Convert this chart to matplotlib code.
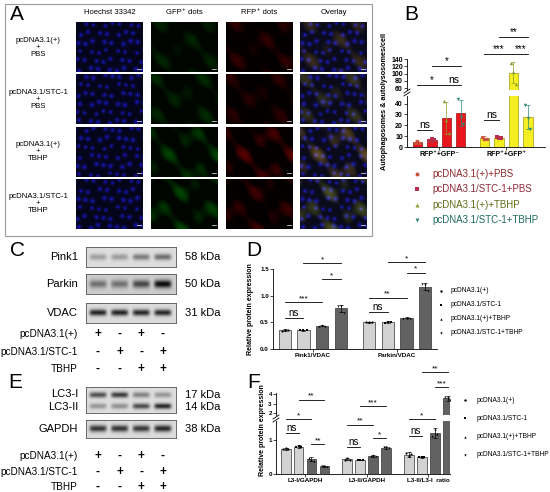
import matplotlib
matplotlib.use('Agg')
import matplotlib.pyplot as plt
import numpy as np

plt.rcParams['font.family'] = ['Liberation Sans', 'DejaVu Sans']
plt.rcParams['axes.linewidth'] = 0.6

# ---------------- data ----------------
# A: fluorescence panel
conditions = ['pcDNA3.1(+)\n+\nPBS', 'pcDNA3.1/STC-1\n+\nPBS',
              'pcDNA3.1(+)\n+\nTBHP', 'pcDNA3.1/STC-1\n+\nTBHP']
channels = ['Hoechst 33342', 'GFP⁺ dots', 'RFP⁺ dots', 'Overlay']
gfp_level = [0.30, 0.35, 0.55, 0.60]
rfp_level = [0.35, 0.30, 0.60, 0.45]

# B: autophagosomes / autolysosomes per cell
b_groups = ['RFP⁺+GFP⁻', 'RFP⁺+GFP⁺']
b_labels = ['pcDNA3.1(+)+PBS', 'pcDNA3.1/STC-1+PBS', 'pcDNA3.1(+)+TBHP', 'pcDNA3.1/STC-1+TBHP']
b_red = [4.3, 6.2, 26.7, 31.0]
b_red_err = [1.8, 1.2, 14.5, 12.0]
b_red_pts = [[3.5, 5.5, 4.0], [5.5, 7.2, 6.0], [42, 25, 13], [44, 28, 21]]
b_yellow = [8.0, 8.5, 102.0, 27.7]
b_yellow_err = [2.0, 1.0, 29.0, 11.0]
b_yellow_pts = [[9.5, 7.0, 7.5], [9.0, 8.5, 8.0], [130, 104, 72], [39, 27, 17]]

# C / E: western blot band intensities (lanes 1-4)
lanes = [1, 2, 3, 4]
pink1_band = [0.30, 0.32, 0.48, 0.55]
parkin_band = [0.45, 0.45, 0.65, 0.95]
vdac_band = [0.90, 0.90, 0.88, 0.88]
lc3i_band = [0.70, 0.80, 0.45, 0.35]
lc3ii_band = [0.35, 0.38, 0.72, 0.90]
gapdh_band = [0.82, 0.82, 0.80, 0.88]
row_names = ['pcDNA3.1(+)', 'pcDNA3.1/STC-1', 'TBHP']
pcdna_row = ['+', '-', '+', '-']
stc1_row = ['-', '+', '-', '+']
tbhp_row = ['-', '-', '+', '+']

# D: Pink1 / Parkin relative expression
d_groups = ['Pink1/VDAC', 'Parkin/VDAC']
legend_df = ['pcDNA3.1(+)', 'pcDNA3.1/STC-1', 'pcDNA3.1(+)+TBHP', 'pcDNA3.1/STC-1+TBHP']
d_pink1 = [0.35, 0.35, 0.44, 0.76]
d_pink1_err = [0.02, 0.01, 0.01, 0.07]
d_pink1_pts = [[0.33, 0.36, 0.35], [0.35, 0.35, 0.35], [0.44, 0.45, 0.44], [0.80, 0.80, 0.67]]
d_parkin = [0.50, 0.50, 0.59, 1.17]
d_parkin_err = [0.01, 0.02, 0.01, 0.07]
d_parkin_pts = [[0.50, 0.51, 0.50], [0.48, 0.51, 0.50], [0.59, 0.59, 0.59], [1.22, 1.20, 1.08]]

# F: LC3 relative expression
f_groups = ['L3-I/GAPDH', 'L3-II/GAPDH', 'L3-II/L3-I  ratio']
f_lc3i = [0.74, 0.80, 0.43, 0.22]
f_lc3i_err = [0.03, 0.04, 0.06, 0.02]
f_lc3i_pts = [[0.73, 0.76, 0.74], [0.78, 0.83, 0.80], [0.48, 0.42, 0.38], [0.23, 0.22, 0.20]]
f_lc3ii = [0.43, 0.41, 0.53, 0.77]
f_lc3ii_err = [0.03, 0.01, 0.02, 0.03]
f_lc3ii_pts = [[0.42, 0.46, 0.42], [0.41, 0.41, 0.42], [0.53, 0.55, 0.52], [0.78, 0.79, 0.75]]
f_ratio = [0.57, 0.50, 1.20, 3.55]
f_ratio_err = [0.08, 0.02, 0.15, 0.25]
f_ratio_pts = [[0.62, 0.52, 0.58], [0.50, 0.51, 0.49], [1.10, 1.33, 1.18], [3.70, 3.60, 3.35]]

markers = ['o', 's', '^', 'v']
b_mcolors = ['#c8503c', '#b8304c', '#8a9a2a', '#2a8a78']
b_tcolors = ['#8e2a28', '#8e2a3a', '#5e6e18', '#1e6a5a']
light, dark = '#d2d2d2', '#626262'

W, H = 550, 492
fig = plt.figure(figsize=(5.5, 4.92), dpi=100)


def box(x0, y0, x1, y1):
    return fig.add_axes([x0 / W, 1 - y1 / H, (x1 - x0) / W, (y1 - y0) / H])


# overlay in pixel coordinates for labels and frames
ov = box(0, 0, W, H)
ov.set_xlim(0, W)
ov.set_ylim(H, 0)
ov.axis('off')
ov.set_zorder(10)
ov.patch.set_alpha(0)

# ---------------- A ----------------
ov.add_patch(plt.Rectangle((5, 4), 367, 232, fill=False, ec='#9a9a9a', lw=0.8))
ov.text(10, 15, 'A', fontsize=15, va='center')
col_x = [76, 151, 226, 300]
row_y = [22, 74.3, 126.6, 178.9]
tw, th = 67, 50
for c, name in enumerate(channels):
    ov.text(col_x[c] + tw / 2, 12, name, fontsize=5.5, ha='center', va='center')
for r, name in enumerate(conditions):
    ov.text(38, row_y[r] + th / 2, name, fontsize=5.6, ha='center', va='center', linespacing=1.0)

hh, ww = 50, 67
yy, xx = np.mgrid[0:hh, 0:ww]


def tile(r, c):
    # texture only: a loose grid of nuclei plus a soft cytoplasm glow
    nuc = np.zeros((hh, ww))
    for i in range(6):
        for j in range(8):
            k = i * 7 + j * 3 + r * 5
            cx = j * 9 + (i % 2) * 4.5 + (k % 5) - 2
            cy = i * 9 + 2 + ((i * 3 + j * 5 + r) % 4) - 1.5
            rad = 3.5 + (k % 3)
            nuc += np.exp(-((xx - cx) ** 2 + (yy - cy) ** 2) / rad)
    nuc = np.clip(nuc, 0, 1)
    haze = np.clip(np.sin(xx / 8.0 + r * 1.3) * np.cos(yy / 6.0 - r * 0.7)
                   + 0.5 * np.sin(xx / 3.7 - yy / 5.1 + r), 0, 1.5) / 1.5
    img = np.zeros((hh, ww, 3))
    if c in (0, 3):
        img[..., 2] += 0.10 + 0.55 * nuc
        img[..., 0] += 0.02 + 0.06 * nuc
        img[..., 1] += 0.02 + 0.06 * nuc
    if c in (1, 3):
        img[..., 1] += gfp_level[r] * 0.45 * haze + 0.02
    if c in (2, 3):
        img[..., 0] += rfp_level[r] * 0.55 * haze + 0.02
    return np.clip(img, 0, 1)


for r in range(4):
    for c in range(4):
        ax = box(col_x[c], row_y[r], col_x[c] + tw, row_y[r] + th)
        ax.imshow(tile(r, c), aspect='auto', interpolation='bilinear')
        ax.plot([ww - 7, ww - 3], [hh - 4, hh - 4], color='white', lw=0.5)
        ax.set_xticks([])
        ax.set_yticks([])
        for s in ax.spines.values():
            s.set_visible(False)


# ---------------- bar helpers ----------------
def draw_bars(ax, groups_vals, groups_err, groups_pts, step, width, bar_colors, ecolors, mcolors, ms, edge):
    for g, (vals, errs, pts) in enumerate(zip(groups_vals, groups_err, groups_pts)):
        for i in range(4):
            x = g + (i - 1.5) * step
            ax.bar(x, vals[i], width, color=bar_colors[g][i], edgecolor=edge[g], lw=0.5, zorder=2)
            ax.errorbar(x, vals[i], yerr=errs[i], fmt='none', ecolor=ecolors[i], elinewidth=0.5,
                        capsize=1.3, capthick=0.5, zorder=3)
            ax.scatter([x - width * 0.25, x, x + width * 0.25], pts[i], marker=markers[i], s=ms,
                       color=mcolors[i], lw=0, zorder=4)


def style(ax, fs=4.5):
    ax.spines['top'].set_visible(False)
    ax.spines['right'].set_visible(False)
    ax.tick_params(labelsize=fs, length=2, width=0.5, pad=1)
    for t in ax.get_yticklabels():
        t.set_fontweight('bold')


def sig(ax, g, i, j, y, label, step, fs=6.5):
    x1 = g + (i - 1.5) * step
    x2 = g + (j - 1.5) * step
    ax.plot([x1, x2], [y, y], color='black', lw=0.6, clip_on=False, zorder=5)
    ax.text((x1 + x2) / 2, y, label, ha='center', va='bottom', fontsize=fs, clip_on=False)


# ---------------- B ----------------
ov.text(404, 15, 'B', fontsize=15, va='center')
b_step, b_w = 0.216, 0.14
b_cols = [['#e8161c'] * 4, ['#f4ee22'] * 4]
b_edge = ['#a01010', '#a09a10']
ax_bt = box(407, 59, 545, 90)
ax_bb = box(407, 96, 545, 147)
for ax in (ax_bt, ax_bb):
    draw_bars(ax, [b_red, b_yellow], [b_red_err, b_yellow_err], [b_red_pts, b_yellow_pts],
              b_step, b_w, b_cols, b_mcolors, b_mcolors, 6, b_edge)
    ax.set_xlim(-0.478, 1.58)
ax_bt.set_ylim(55, 140)
ax_bt.set_yticks([60, 80, 100, 120, 140])
ax_bt.set_xticks([])
ax_bt.spines['bottom'].set_visible(False)
ax_bb.set_ylim(0, 47)
ax_bb.set_yticks([0, 10, 20, 30, 40])
ax_bb.set_xticks([0, 1])
ax_bb.set_xticklabels(b_groups, fontsize=5, fontweight='bold')
style(ax_bt, 5)
style(ax_bb, 5)
for t in ax_bb.get_xticklabels():
    t.set_fontweight('bold')
ov.plot([404, 410], [93, 89], color='black', lw=0.6)
ov.plot([404, 410], [96, 92], color='black', lw=0.6)
ov.text(385, 102, 'Autophagosomes & autolysosomes/cell', rotation=90, fontsize=5.2,
        fontweight='bold', ha='center', va='center')
sig(ax_bb, 0, 0, 1, 16, 'ns', b_step, 7.5)
sig(ax_bt, 0, 0, 2, 69, '*', b_step, 7)
sig(ax_bt, 0, 2, 3, 69, 'ns', b_step, 7.5)
sig(ax_bt, 0, 1, 3, 121, '*', b_step, 7)
sig(ax_bb, 1, 0, 1, 25, 'ns', b_step, 7.5)
sig(ax_bt, 1, 0, 2, 154, '***', b_step, 7)
sig(ax_bt, 1, 2, 3, 154, '***', b_step, 7)
sig(ax_bt, 1, 1, 3, 200, '**', b_step, 7)
for i, name in enumerate(b_labels):
    y = 174 + i * 15.3
    ov.scatter(417, y, marker=markers[i], s=8, color=b_mcolors[i], lw=0)
    ov.text(432, y, name, fontsize=7, color=b_tcolors[i], va='center')


# ---------------- C / E blots ----------------
bx0, bx1, lx0, lx1 = 86, 176, 0.45, 4.6


def lane_px(lane):
    return bx0 + (lane - lx0) * (bx1 - bx0) / (lx1 - lx0)


def blot(y0, y1, bands, bg=0.86):
    ax = box(bx0, y0, bx1, y1)
    X, Y = np.meshgrid(np.linspace(lx0, lx1, 220), np.linspace(0, 1, 60))
    img = np.full(X.shape, bg)
    for band, yc, hw in bands:
        for lane, inten in zip(lanes, band):
            img -= inten * 0.8 * np.exp(-((X - lane) / 0.4) ** 6) * np.exp(-((Y - yc) / hw) ** 2)
    ax.imshow(img, cmap='gray', vmin=0, vmax=1, extent=(lx0, lx1, 1, 0), aspect='auto',
              interpolation='bilinear')
    ax.set_xlim(lx0, lx1)
    ax.set_ylim(1, 0)
    ax.set_xticks([])
    ax.set_yticks([])
    for s in ax.spines.values():
        s.set_linewidth(0.6)
        s.set_color('#555555')


def table(ys):
    for y, name, row in zip(ys, row_names, [pcdna_row, stc1_row, tbhp_row]):
        ov.text(78, y, name, fontsize=7.2, ha='right', va='center')
        for lane, s in zip(lanes, row):
            ov.text(lane_px(lane), y, s, fontsize=8.5, fontweight='bold', ha='center', va='center')


ov.text(10, 251, 'C', fontsize=15, va='center')
blot(247, 267, [(pink1_band, 0.5, 0.16)], 0.87)
blot(274, 294, [(parkin_band, 0.5, 0.2)], 0.80)
blot(303, 323, [(vdac_band, 0.48, 0.16)], 0.86)
for name, kda, y in [('Pink1', '58 kDa', 257), ('Parkin', '50 kDa', 284), ('VDAC', '31 kDa', 313)]:
    ov.text(78, y, name, fontsize=8, ha='right', va='center')
    ov.text(185, y, kda, fontsize=8, ha='left', va='center')
table([334, 352, 369])

ov.text(8, 382, 'E', fontsize=15, va='center')
blot(387, 413, [(lc3i_band, 0.30, 0.11), (lc3ii_band, 0.74, 0.11)], 0.87)
blot(420, 438, [(gapdh_band, 0.5, 0.18)], 0.86)
ov.text(78, 394, 'LC3-I', fontsize=8, ha='right', va='center')
ov.text(78, 407, 'LC3-II', fontsize=8, ha='right', va='center')
ov.text(185, 395, '17 kDa', fontsize=8, ha='left', va='center')
ov.text(185, 407, '14 kDa', fontsize=8, ha='left', va='center')
ov.text(78, 429, 'GAPDH', fontsize=8, ha='right', va='center')
ov.text(185, 429, '38 kDa', fontsize=8, ha='left', va='center')
table([456, 472, 487])

# ---------------- D ----------------
ov.text(246, 251, 'D', fontsize=15, va='center')
d_step, d_w = 0.226, 0.143
gray_cols = [[light, light, dark, dark]] * 2
ax_d = box(273, 269, 437, 349)
draw_bars(ax_d, [d_pink1, d_parkin], [d_pink1_err, d_parkin_err], [d_pink1_pts, d_parkin_pts],
          d_step, d_w, gray_cols, ['black'] * 4, ['black'] * 4, 2.5, ['#333333'] * 2)
ax_d.set_xlim(-0.476, 1.476)
ax_d.set_ylim(0, 1.5)
ax_d.set_yticks([0, 0.5, 1.0, 1.5])
ax_d.set_yticklabels(['0.0', '0.5', '1.0', '1.5'])
ax_d.set_xticks([0, 1])
ax_d.set_xticklabels(d_groups, fontsize=5.3, fontweight='bold')
style(ax_d)
ov.text(250, 309, 'Relative protein expression', rotation=90, fontsize=5, fontweight='bold',
        ha='center', va='center')
sig(ax_d, 0, 0, 1, 0.58, 'ns', d_step, 7)
sig(ax_d, 0, 0, 2, 0.88, '***', d_step, 6)
sig(ax_d, 0, 2, 3, 1.31, '*', d_step, 6)
sig(ax_d, 0, 1, 3, 1.61, '*', d_step, 6)
sig(ax_d, 1, 0, 1, 0.69, 'ns', d_step, 7)
sig(ax_d, 1, 0, 2, 0.96, '**', d_step, 6)
sig(ax_d, 1, 2, 3, 1.43, '*', d_step, 6)
sig(ax_d, 1, 1, 3, 1.63, '*', d_step, 6)
for i, name in enumerate(legend_df):
    y = 291 + i * 14
    ov.scatter(441, y, marker=markers[i], s=3, color='black', lw=0)
    ov.text(451, y, name, fontsize=4.8, va='center')

# ---------------- F ----------------
ov.text(247, 383, 'F', fontsize=15, va='center')
f_step, f_w = 0.21, 0.16
gray_cols3 = [[light, light, dark, dark]] * 3
ax_ft = box(276, 393, 450, 415)
ax_fb = box(276, 421, 450, 474)
for ax in (ax_ft, ax_fb):
    draw_bars(ax, [f_lc3i, f_lc3ii, f_ratio], [f_lc3i_err, f_lc3ii_err, f_ratio_err],
              [f_lc3i_pts, f_lc3ii_pts, f_ratio_pts], f_step, f_w, gray_cols3,
              ['black'] * 4, ['black'] * 4, 2.5, ['#333333'] * 3)
    ax.set_xlim(-0.47, 2.35)
ax_ft.set_ylim(1.8, 4.1)
ax_ft.set_yticks([2, 3, 4])
ax_ft.set_xticks([])
ax_ft.spines['bottom'].set_visible(False)
ax_fb.set_ylim(0, 1.55)
ax_fb.set_yticks([0, 1])
ax_fb.set_xticks([0, 1, 2])
ax_fb.set_xticklabels(f_groups, fontsize=5, fontweight='bold')
style(ax_ft)
style(ax_fb)
ov.plot([273, 279], [419, 415], color='black', lw=0.6)
ov.plot([273, 279], [422, 418], color='black', lw=0.6)
ov.text(262, 430, 'Relative protein expression', rotation=90, fontsize=5, fontweight='bold',
        ha='center', va='center')
sig(ax_fb, 0, 0, 1, 1.20, 'ns', f_step, 7)
sig(ax_fb, 0, 2, 3, 0.88, '**', f_step, 6)
sig(ax_fb, 0, 0, 2, 1.60, '*', f_step, 6)
sig(ax_ft, 0, 1, 3, 3.40, '**', f_step, 6)
sig(ax_fb, 1, 0, 1, 0.80, 'ns', f_step, 7)
sig(ax_fb, 1, 2, 3, 1.05, '*', f_step, 6)
sig(ax_fb, 1, 0, 2, 1.44, '**', f_step, 6)
sig(ax_ft, 1, 1, 3, 2.70, '***', f_step, 6)
sig(ax_fb, 2, 0, 1, 1.10, 'ns', f_step, 7)
sig(ax_fb, 2, 0, 2, 1.60, '*', f_step, 6)
sig(ax_ft, 2, 2, 3, 4.70, '***', f_step, 6)
sig(ax_ft, 2, 1, 3, 6.30, '**', f_step, 6)
for i, name in enumerate(legend_df):
    y = 400 + i * 18.3
    ov.scatter(465, y, marker=markers[i], s=3, color='black', lw=0)
    ov.text(477, y, name, fontsize=4.8, va='center')

fig.savefig('out.png', dpi=100)
